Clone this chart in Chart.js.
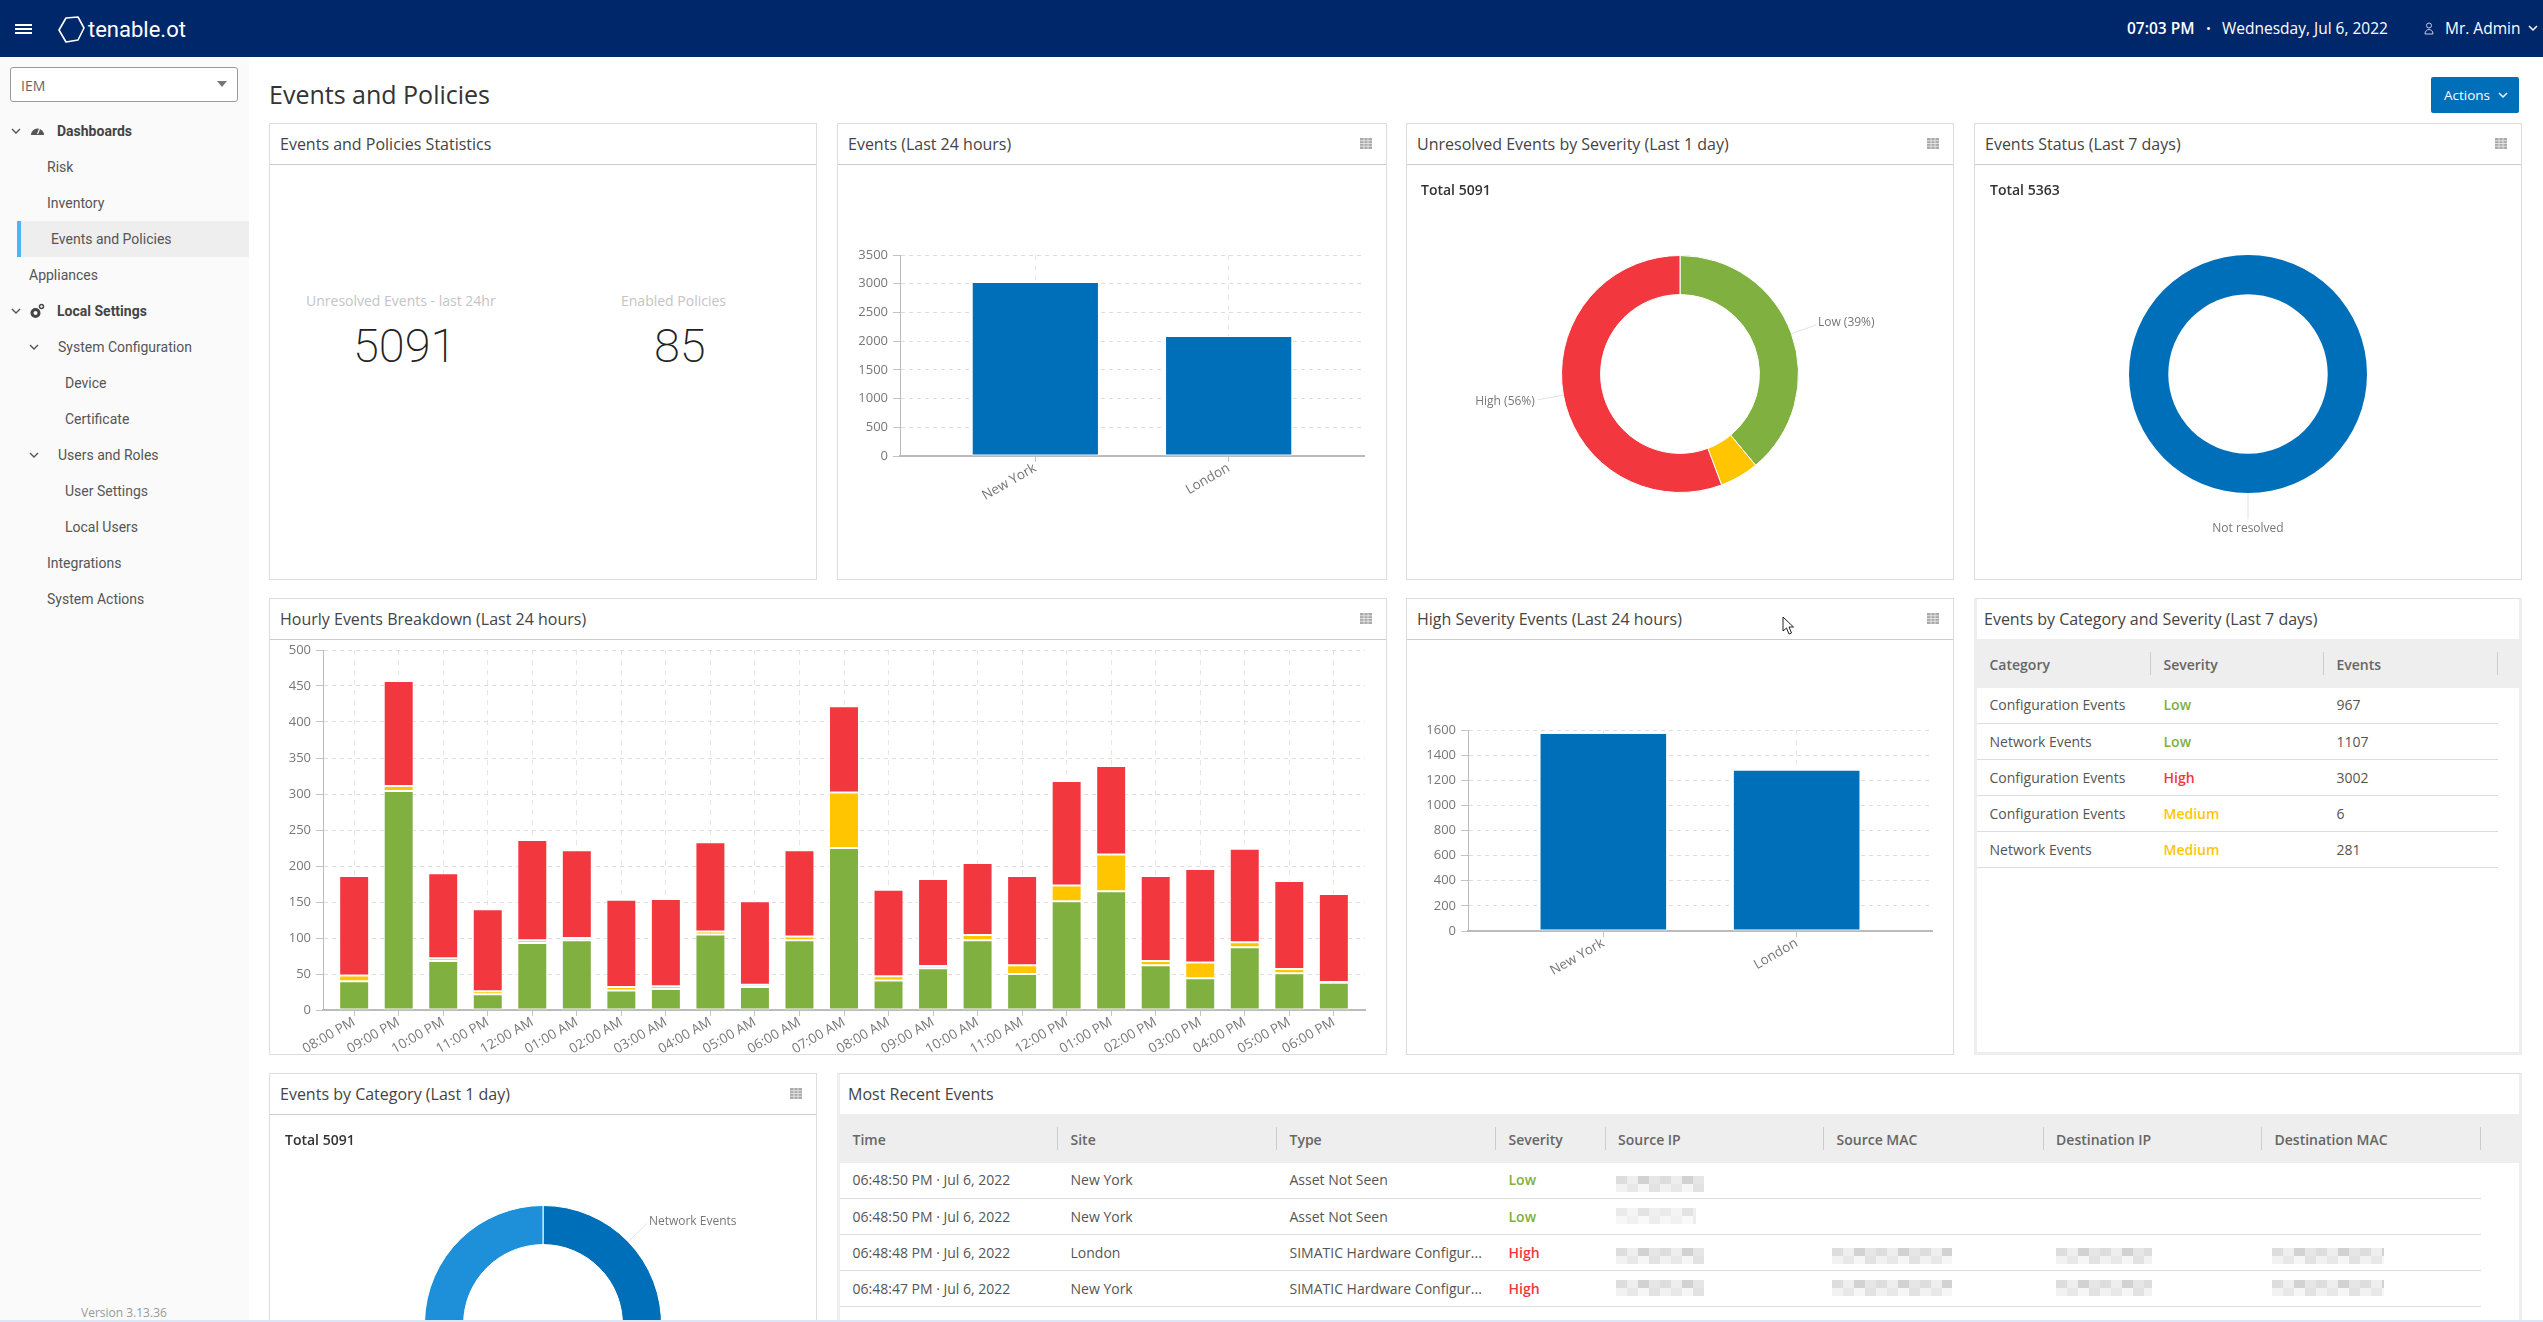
<!DOCTYPE html>
<html>
<head>
<meta charset="utf-8">
<title>Events and Policies</title>
<script src="https://cdn.jsdelivr.net/npm/chart.js@4"></script>
<style>
	html, body { margin: 0; width: 2543px; height: 1322px; overflow: hidden; background: #fff; font-family: "Open Sans", sans-serif; color: #555; }
	.t { position: absolute; transform: translateY(-50%); white-space: nowrap; }
	#topbar { position: absolute; left: 0; top: 0; width: 2543px; height: 57px; background: #00276a; color: #fff; }
	#sidebar { position: absolute; left: 0; top: 57px; width: 249px; height: 1265px; background: #fafafa; }
	#selected { position: absolute; left: 17px; top: 221px; width: 232px; height: 36px; background: #eee; border-left: 4px solid #4db5f5; box-sizing: border-box; }
	#select { position: absolute; left: 10px; top: 67px; width: 228px; height: 35px; box-sizing: border-box; border: 1px solid #999; border-radius: 3px; background: #fff; }
	.nav { font-family: Roboto, sans-serif; font-size: 14px; color: #555; }
	.nav.b { font-weight: 700; color: #444; }
	.panel { position: absolute; box-sizing: border-box; border: 1px solid #ddd; background: #fff; }
	.title { position: absolute; left: 0; top: 0; right: 0; height: 40px; line-height: 40px; padding-left: 10px; font-size: 16px; color: #444; border-bottom: 1px solid #ccc; }
	.grip { position: absolute; right: 14px; top: 14px; display: block; line-height: 0; }
	canvas { position: absolute; }
	.total { font-size: 14px; font-weight: 600; color: #333; }
	.big { font-family: Roboto, sans-serif; font-size: 47px; font-weight: 200; color: #222; }
	.band { position: absolute; background: #eee; height: 49px; }
	table { position: absolute; border-collapse: collapse; table-layout: fixed; font-size: 14px; color: #555; }
	th { height: 48px; padding: 2px 0 0 12.5px; text-align: left; font-weight: 600; color: #666; position: relative; box-sizing: border-box; }
	th::after { content: ""; position: absolute; right: 0; top: 13px; height: 23px; width: 1px; background: #ccc; }
	td { height: 36px; padding: 0 0 0 12.5px; border-bottom: 1px solid #ddd; box-sizing: border-box; white-space: nowrap; }
	.sev-Low { color: #80b03f; font-weight: 600; }
	.sev-High { color: #f2373e; font-weight: 600; }
	.sev-Medium { color: #ffc600; font-weight: 600; }
	.blur { position: absolute; height: 16px; background:
		repeating-linear-gradient(90deg, #ddd 0 11px, #eee 11px 22px, #d2d2d2 22px 33px, #e6e6e6 33px 44px) 0 0 / 100% 8px no-repeat,
		repeating-linear-gradient(90deg, #f2f2f2 0 11px, #e8e8e8 11px 22px, #f6f6f6 22px 33px, #e2e2e2 33px 44px) 0 8px / 100% 8px no-repeat; }
	#strip { position: absolute; left: 0; top: 1320px; width: 2543px; height: 2px; background: #dbe7f7; }
</style>
</head>
<body>

<div id="topbar">
	<svg style="position:absolute;left:15px;top:24px" width="17" height="10"><path d="M0 1h17M0 5h17M0 9h17" stroke="#fff" stroke-width="2"/></svg>
	<svg style="position:absolute;left:57px;top:16px" width="28" height="27" viewBox="0 0 28 27"><path d="M9 2 L21 1 L27 12 L21 24 L9 26 L2 14 Z" fill="none" stroke="#fff" stroke-width="1.6" stroke-linejoin="round"/></svg>
	<div class="t" style="left:88px;top:29px;font-family:Roboto,sans-serif;font-size:22px;">tenable.ot</div>
	<div class="t" style="left:2127px;top:28px;font-size:15.5px;font-weight:600;">07:03 PM</div>
	<div class="t" style="left:2206px;top:28px;font-size:13px;">•</div>
	<div class="t" style="left:2222px;top:28px;font-size:15.5px;">Wednesday, Jul 6, 2022</div>
	<svg style="position:absolute;left:2424px;top:22px" width="10" height="13" viewBox="0 0 10 13"><circle cx="5" cy="3.5" r="2.5" fill="none" stroke="#ccd" stroke-width="1"/><path d="M1 12c0-6 8-6 8 0z" fill="none" stroke="#ccd" stroke-width="1"/></svg>
	<div class="t" style="left:2445px;top:28px;font-size:15.5px;">Mr. Admin</div>
	<svg style="position:absolute;left:2528px;top:25px" width="10" height="7"><path d="M1 1l4 4 4-4" fill="none" stroke="#fff" stroke-width="1.5"/></svg>
</div>

<div id="sidebar"></div>
<div id="selected"></div>
<div id="select">
	<div class="t" style="left:10px;top:17px;font-size:14px;color:#666;">IEM</div>
	<svg style="position:absolute;left:206px;top:13px" width="10" height="6"><path d="M0 0h10l-5 6z" fill="#777"/></svg>
</div>
<div id="nav"></div>
<div class="t" style="left:81px;top:1312px;font-size:12px;color:#999;">Version 3.13.36</div>

<div class="t" style="left:269px;top:94px;font-size:25px;color:#333;">Events and Policies</div>
<div style="position:absolute;left:2431px;top:77px;width:88px;height:36px;background:#006fba;border-radius:2px;color:#fff;">
	<div class="t" style="left:13px;top:18px;font-size:13.5px;">Actions</div>
	<svg style="position:absolute;left:67px;top:15px" width="10" height="7"><path d="M1 1l4 4 4-4" fill="none" stroke="#fff" stroke-width="1.5"/></svg>
</div>

<div class="panel" style="left:269px;top:123px;width:548px;height:457px;"><div class="title">Events and Policies Statistics</div></div>
<div class="t" style="left:306px;top:300px;font-size:14px;color:#c4c4c4;">Unresolved Events - last 24hr</div>
<div class="t" style="left:621px;top:300px;font-size:14px;color:#c4c4c4;">Enabled Policies</div>
<div class="t big" style="left:353px;top:345px;">5091</div>
<div class="t big" style="left:654px;top:345px;">85</div>

<div class="panel" style="left:837px;top:123px;width:550px;height:457px;"><div class="title">Events (Last 24 hours)</div><span class="grip"></span></div>
<canvas id="eventsChart" width="547" height="413" style="left:838px;top:165px;"></canvas>

<div class="panel" style="left:1406px;top:123px;width:548px;height:457px;"><div class="title">Unresolved Events by Severity (Last 1 day)</div><span class="grip"></span></div>
<canvas id="severityChart" width="546" height="413" style="left:1407px;top:165px;"></canvas>
<div class="t total" style="left:1421px;top:189px;">Total 5091</div>

<div class="panel" style="left:1974px;top:123px;width:548px;height:457px;"><div class="title">Events Status (Last 7 days)</div><span class="grip"></span></div>
<canvas id="statusChart" width="546" height="413" style="left:1975px;top:165px;"></canvas>
<div class="t total" style="left:1990px;top:189px;">Total 5363</div>

<div class="panel" style="left:269px;top:598px;width:1118px;height:457px;"><div class="title">Hourly Events Breakdown (Last 24 hours)</div><span class="grip"></span></div>
<canvas id="hourlyChart" width="1115" height="416" style="left:270px;top:637px;"></canvas>

<div class="panel" style="left:1406px;top:598px;width:548px;height:457px;"><div class="title">High Severity Events (Last 24 hours)</div><span class="grip"></span></div>
<canvas id="highChart" width="546" height="413" style="left:1407px;top:640px;"></canvas>
<svg style="position:absolute;left:1782px;top:616px" width="13" height="20" viewBox="0 0 13 20"><path d="M1 1v14l3.5-3 2.5 6 2.5-1-2.5-6h4.5z" fill="#fff" stroke="#222" stroke-width="1"/></svg>

<div class="panel" style="left:1974px;top:598px;width:548px;height:457px;border-width:1px 3px 3px 3px;border-color:#ddd #eee #eee #eee;"><div class="title" style="padding-left:7px;">Events by Category and Severity (Last 7 days)</div></div>
<div class="band" style="left:1977px;top:639px;width:542px;"></div>
<table id="categoryTable" style="left:1977px;top:639px;width:521px;"></table>

<div class="panel" style="left:269px;top:1073px;width:548px;height:300px;"><div class="title">Events by Category (Last 1 day)</div><span class="grip"></span></div>
<canvas id="categoryChart" width="546" height="500" style="left:270px;top:1115px;"></canvas>
<div class="t total" style="left:285px;top:1139px;">Total 5091</div>

<div class="panel" style="left:837px;top:1073px;width:1685px;height:300px;border-width:1px 3px 1px 3px;border-color:#ddd #eee #eee #eee;"><div class="title" style="padding-left:8px;">Most Recent Events</div></div>
<div class="band" style="left:840px;top:1114px;width:1680px;"></div>
<table id="recentTable" style="left:840px;top:1114px;width:1641px;"></table>
<div class="blur" style="left:1616px;top:1176px;width:88px;"></div>
<div class="blur" style="left:1616px;top:1208px;width:80px;opacity:.6;"></div>
<div class="blur" style="left:1616px;top:1248px;width:88px;"></div>
<div class="blur" style="left:1832px;top:1248px;width:120px;"></div>
<div class="blur" style="left:2056px;top:1248px;width:96px;"></div>
<div class="blur" style="left:2272px;top:1248px;width:112px;"></div>
<div class="blur" style="left:1616px;top:1280px;width:88px;"></div>
<div class="blur" style="left:1832px;top:1280px;width:120px;"></div>
<div class="blur" style="left:2056px;top:1280px;width:96px;"></div>
<div class="blur" style="left:2272px;top:1280px;width:112px;"></div>

<div id="strip"></div>

<script>
'use strict';

var siteLabels = [ 'New York', 'London' ];
var siteEvents = [ 3030, 2090 ];
var highSiteEvents = [ 1576, 1284 ];

var hourLabels = [ '08:00 PM', '09:00 PM', '10:00 PM', '11:00 PM', '12:00 AM', '01:00 AM', '02:00 AM', '03:00 AM', '04:00 AM', '05:00 AM', '06:00 AM', '07:00 AM', '08:00 AM', '09:00 AM', '10:00 AM', '11:00 AM', '12:00 PM', '01:00 PM', '02:00 PM', '03:00 PM', '04:00 PM', '05:00 PM', '06:00 PM' ];
var lowHourly = [ 40, 304, 68, 22, 93, 97, 27, 29, 105, 32, 97, 225, 41, 58, 97, 50, 151, 165, 62, 44, 87, 51, 38 ];
var mediumHourly = [ 8, 7, 4, 4, 4, 3, 5, 4, 4, 3, 5, 77, 6, 3, 7, 12, 22, 51, 6, 22, 7, 6, 1 ];
var highHourly = [ 138, 146, 118, 114, 139, 122, 121, 121, 124, 116, 120, 120, 120, 121, 100, 124, 145, 123, 118, 130, 130, 122, 122 ];

var severityEvents = [ 1985, 270, 2836 ];
var severitySliceLabels = [ 'Low (39%)', null, 'High (56%)' ];
var statusEvents = [ 5363 ];
var statusSliceLabels = [ 'Not resolved' ];
var categoryEvents = [ 1300, 3791 ];
var categorySliceLabels = [ 'Network Events', 'Configuration Events' ];

var categoryColumns = [ 'Category', 'Severity', 'Events' ];
var categoryRows = [
	[ 'Configuration Events', 'Low', '967' ],
	[ 'Network Events', 'Low', '1107' ],
	[ 'Configuration Events', 'High', '3002' ],
	[ 'Configuration Events', 'Medium', '6' ],
	[ 'Network Events', 'Medium', '281' ],
];

var recentColumns = [ 'Time', 'Site', 'Type', 'Severity', 'Source IP', 'Source MAC', 'Destination IP', 'Destination MAC' ];
var recentRows = [
	[ '06:48:50 PM · Jul 6, 2022', 'New York', 'Asset Not Seen', 'Low', '', '', '', '' ],
	[ '06:48:50 PM · Jul 6, 2022', 'New York', 'Asset Not Seen', 'Low', '', '', '', '' ],
	[ '06:48:48 PM · Jul 6, 2022', 'London', 'SIMATIC Hardware Configur...', 'High', '', '', '', '' ],
	[ '06:48:47 PM · Jul 6, 2022', 'New York', 'SIMATIC Hardware Configur...', 'High', '', '', '', '' ],
];

var green = '#80b03f';
var yellow = '#ffc600';
var red = '#f2373e';
var blue = '#006fb9';
var lightBlue = '#1e8fd9';

Chart.defaults.font.family = '"Open Sans", sans-serif';
Chart.defaults.font.size = 13;
Chart.defaults.color = '#777';
Chart.defaults.animation = false;

// leader line and text outside each slice, placed from the arc's own angles
var sliceLabelPlugin = {
	id: 'sliceLabels',
	afterDatasetsDraw: function ( chart, args, opts ) {
		var ctx = chart.ctx;
		chart.getDatasetMeta( 0 ).data.forEach( function ( arc, i ) {
			var text = opts.texts[ i ];
			if ( !text ) {
				return;
			}
			var mid = ( arc.startAngle + arc.endAngle ) / 2;
			var c = Math.cos( mid );
			var s = Math.sin( mid );
			var r1 = arc.outerRadius;
			var r2 = r1 + 26;
			ctx.save();
			ctx.strokeStyle = '#e2e2e2';
			ctx.beginPath();
			ctx.moveTo( arc.x + c * r1, arc.y + s * r1 );
			ctx.lineTo( arc.x + c * r2, arc.y + s * r2 );
			ctx.stroke();
			ctx.font = '12px "Open Sans", sans-serif';
			ctx.fillStyle = '#777';
			ctx.textBaseline = 'middle';
			var tx = arc.x + c * r2;
			var ty = arc.y + s * r2;
			if ( Math.abs( c ) < 0.1 ) {
				ctx.textAlign = 'center';
				ty += 10;
			} else if ( c > 0 ) {
				ctx.textAlign = 'left';
				tx += 2;
				ty -= 2;
			} else {
				ctx.textAlign = 'right';
				tx -= 3;
				ty += 2;
			}
			ctx.fillText( text, tx, ty );
			ctx.restore();
		} );
	},
};

function barOptions( labels, yMax, yStep, yWidth, xHeight, padTop, padRight, stacked ) {
	return {
		responsive: false,
		layout: { padding: { top: padTop, right: padRight } },
		plugins: { legend: { display: false }, tooltip: { enabled: false } },
		scales: {
			x: {
				type: 'linear',
				offset: false,
				stacked: stacked,
				min: -0.7,
				max: labels.length - 0.3,
				afterBuildTicks: function ( scale ) {
					scale.ticks = labels.map( function ( l, i ) {
						return { value: i };
					} );
				},
				afterFit: function ( scale ) {
					scale.height = xHeight;
				},
				ticks: {
					autoSkip: false,
					minRotation: 30,
					maxRotation: 30,
					padding: -2,
					font: { size: 13.5 },
					callback: function ( value, index ) {
						return labels[ index ];
					},
				},
				grid: { offset: false, color: '#e6e6e6', tickColor: '#c4c4c4', tickLength: 6 },
				border: { color: '#bbb', width: 2, dash: [ 5, 5 ] },
			},
			y: {
				stacked: stacked,
				min: 0,
				max: yMax,
				afterFit: function ( scale ) {
					scale.width = yWidth;
				},
				ticks: {
					stepSize: yStep,
					padding: 5,
					callback: function ( value ) {
						return String( value );
					},
				},
				grid: { color: '#ddd', tickColor: '#c4c4c4', tickLength: 7 },
				border: { color: '#bbb', width: 1, dash: [ 4, 4 ] },
			},
		},
	};
}

function indexLabels( labels ) {
	return labels.map( function ( l, i ) {
		return i;
	} );
}

function barDataset( label, values, color, percent ) {
	return {
		label: label,
		data: values,
		backgroundColor: color,
		borderColor: '#fff',
		borderWidth: 1,
		borderSkipped: false,
		categoryPercentage: 1,
		barPercentage: percent,
	};
}

new Chart( document.getElementById( 'eventsChart' ), {
	type: 'bar',
	data: { labels: indexLabels( siteLabels ), datasets: [ barDataset( 'Events', siteEvents, blue, 0.658 ) ] },
	options: barOptions( siteLabels, 3500, 500, 62, 122, 90, 21, false ),
} );

new Chart( document.getElementById( 'highChart' ), {
	type: 'bar',
	data: { labels: indexLabels( siteLabels ), datasets: [ barDataset( 'High', highSiteEvents, blue, 0.66 ) ] },
	options: barOptions( siteLabels, 1600, 200, 61, 122, 90, 21, false ),
} );

new Chart( document.getElementById( 'hourlyChart' ), {
	type: 'bar',
	data: {
		labels: indexLabels( hourLabels ),
		datasets: [
			barDataset( 'Low', lowHourly, green, 0.673 ),
			barDataset( 'Medium', mediumHourly, yellow, 0.673 ),
			barDataset( 'High', highHourly, red, 0.673 ),
		],
	},
	options: barOptions( hourLabels, 500, 50, 53, 43, 13, 20, true ),
} );

function donutOptions( texts, padTop, padSide, padBottom ) {
	return {
		responsive: false,
		cutout: '67%',
		layout: { padding: { top: padTop, bottom: padBottom, left: padSide, right: padSide } },
		plugins: { legend: { display: false }, tooltip: { enabled: false }, sliceLabels: { texts: texts } },
	};
}

new Chart( document.getElementById( 'severityChart' ), {
	type: 'doughnut',
	data: { labels: [ 'Low', 'Medium', 'High' ], datasets: [ { data: severityEvents, backgroundColor: [ green, yellow, red ], borderColor: '#fff', borderWidth: 1 } ] },
	options: donutOptions( severitySliceLabels, 90, 154, 85 ),
	plugins: [ sliceLabelPlugin ],
} );

new Chart( document.getElementById( 'statusChart' ), {
	type: 'doughnut',
	data: { labels: statusSliceLabels, datasets: [ { data: statusEvents, backgroundColor: [ blue ], borderWidth: 0 } ] },
	options: donutOptions( statusSliceLabels, 90, 154, 85 ),
	plugins: [ sliceLabelPlugin ],
} );

new Chart( document.getElementById( 'categoryChart' ), {
	type: 'doughnut',
	data: { labels: categorySliceLabels, datasets: [ { data: categoryEvents, backgroundColor: [ blue, lightBlue ], borderColor: '#fff', borderWidth: 1 } ] },
	options: donutOptions( categorySliceLabels, 90, 154, 172 ),
	plugins: [ sliceLabelPlugin ],
} );

function fillTable( id, columns, rows, widths ) {
	var html = '<colgroup>' + widths.map( function ( w ) {
		return '<col style="width:' + w + 'px">';
	} ).join( '' ) + '</colgroup><tr>' + columns.map( function ( c ) {
		return '<th>' + c + '</th>';
	} ).join( '' ) + '</tr>';
	rows.forEach( function ( row ) {
		html += '<tr>' + row.map( function ( cell ) {
			var sev = ( cell === 'Low' || cell === 'High' || cell === 'Medium' ) ? ' class="sev-' + cell + '"' : '';
			return '<td' + sev + '>' + cell + '</td>';
		} ).join( '' ) + '</tr>';
	} );
	document.getElementById( id ).innerHTML = html;
}

fillTable( 'categoryTable', categoryColumns, categoryRows, [ 174, 173, 174 ] );
fillTable( 'recentTable', recentColumns, recentRows, [ 218, 219, 219, 109.5, 218.5, 219.6, 218.4, 219 ] );

// sidebar entries, with chevrons and icons for the expandable ones
var navItems = [
	[ 'Dashboards', 57, 131, true ], [ 'Risk', 47, 167 ], [ 'Inventory', 47, 203 ], [ 'Events and Policies', 51, 239 ],
	[ 'Appliances', 29, 275 ], [ 'Local Settings', 57, 311, true ], [ 'System Configuration', 58, 347 ], [ 'Device', 65, 383 ],
	[ 'Certificate', 65, 419 ], [ 'Users and Roles', 58, 455 ], [ 'User Settings', 65, 491 ], [ 'Local Users', 65, 527 ],
	[ 'Integrations', 47, 563 ], [ 'System Actions', 47, 599 ],
];
var navHtml = navItems.map( function ( n ) {
	return '<div class="t nav' + ( n[ 3 ] ? ' b' : '' ) + '" style="left:' + n[ 1 ] + 'px;top:' + n[ 2 ] + 'px;">' + n[ 0 ] + '</div>';
} ).join( '' );
var chevrons = [ [ 11, 128 ], [ 11, 308 ], [ 29, 344 ], [ 29, 452 ] ];
navHtml += chevrons.map( function ( c ) {
	return '<svg style="position:absolute;left:' + c[ 0 ] + 'px;top:' + c[ 1 ] + 'px" width="10" height="7"><path d="M1 1l4 4 4-4" fill="none" stroke="#555" stroke-width="1.4"/></svg>';
} ).join( '' );
navHtml += '<svg style="position:absolute;left:30px;top:125px" width="15" height="11" viewBox="0 0 15 11"><path d="M1 10a6.5 6.5 0 1 1 13 0z" fill="#555"/><path d="M7.5 9l2-5" stroke="#fafafa" stroke-width="1.2"/></svg>';
navHtml += '<svg style="position:absolute;left:29px;top:303px" width="16" height="16" viewBox="0 0 16 16"><circle cx="6.5" cy="10" r="3.5" fill="none" stroke="#444" stroke-width="3"/><circle cx="12.5" cy="3.5" r="2" fill="none" stroke="#444" stroke-width="1.4"/></svg>';
document.getElementById( 'nav' ).innerHTML = navHtml;

var grip = '<svg width="12" height="11" style="display:block"><path d="M0 0h12v11H0z" fill="#aaa"/><path d="M4 0v11M8 0v11M0 2.75h12M0 5.5h12M0 8.25h12" stroke="#fff" stroke-width=".6"/></svg>';
document.querySelectorAll( '.grip' ).forEach( function ( el ) {
	el.innerHTML = grip;
} );
</script>
</body>
</html>
